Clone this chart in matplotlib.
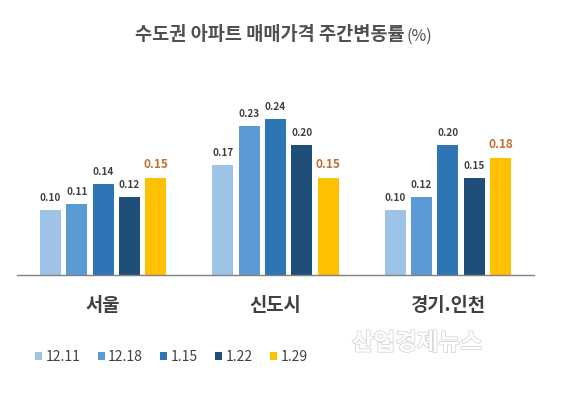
import matplotlib
matplotlib.use("Agg")
import matplotlib.pyplot as plt
import matplotlib.patheffects as pe
import numpy as np

plt.rcParams['font.family'] = ['Noto Sans CJK KR', 'DejaVu Sans']

regions = ["서울", "신도시", "경기.인천"]
weeks = ["12.11", "12.18", "1.15", "1.22", "1.29"]
values = {
    "12.11": [0.10, 0.17, 0.10],
    "12.18": [0.11, 0.23, 0.12],
    "1.15": [0.14, 0.24, 0.20],
    "1.22": [0.12, 0.20, 0.15],
    "1.29": [0.15, 0.15, 0.18],
}
colors = ["#9DC3E6", "#5B9BD5", "#2E75B6", "#1F4E79", "#FFC000"]
title = "수도권 아파트 매매가격 주간변동률"

W, H = 567, 396
fig = plt.figure(figsize=(W / 100, H / 100), dpi=100)
ax = fig.add_axes([17 / W, 121 / H, 517 / W, 175.5 / H])

x = np.arange(len(regions))
pitch = 26.3 / 172
bw = 21 / 172
for i, wk in enumerate(weeks):
    off = (i - 2) * pitch
    ax.bar(x + off, values[wk], width=bw, color=colors[i], label=wk, zorder=2)
    last = (i == len(weeks) - 1)
    for xi, v in zip(x + off, values[wk]):
        ax.annotate(f"{v:.2f}", (xi, v), xytext=(0, 5),
                    textcoords="offset points", ha="center", va="bottom",
                    fontsize=8.6 if last else 7.2, fontweight="bold",
                    color="#C07030" if last else "#404040")

ax.set_xlim(-0.5, 2.5)
ax.set_ylim(0, 0.27)
for s in ["top", "right", "left"]:
    ax.spines[s].set_visible(False)
ax.spines["bottom"].set_color("#808080")
ax.spines["bottom"].set_linewidth(1.0)
ax.set_yticks([])
ax.set_xticks(x)
ax.set_xticklabels(regions, fontsize=13.5, fontweight="bold", color="#404040")
ax.tick_params(axis="x", length=0, pad=15)

# title
t = fig.text(135 / W, 1 - 35 / H, title, fontsize=13.4, fontweight="bold",
             color="#505050", ha="left", va="center")
fig.canvas.draw()
bb = t.get_window_extent()
fig.text((bb.x1 + 2) / W, 1 - 36 / H, "(%)", fontsize=11.5, color="#505050",
         ha="left", va="center")

# legend
ax.legend(loc="center left", bbox_to_anchor=(35 / W, 1 - 357 / H),
          bbox_transform=fig.transFigure, ncol=5, frameon=False,
          prop={"size": 10, "weight": "medium"},
          handlelength=0.5, handleheight=0.5, handletextpad=0.25,
          columnspacing=1.25, borderpad=0, borderaxespad=0,
          labelcolor="#404040")

# watermark
fig.text(417 / W, 1 - 343 / H, "산업경제뉴스", fontsize=17, fontweight="bold",
         color="white", ha="center", va="center",
         path_effects=[pe.withStroke(linewidth=1.0, foreground="#cfcfcf")])

fig.savefig("out.png", dpi=100)
